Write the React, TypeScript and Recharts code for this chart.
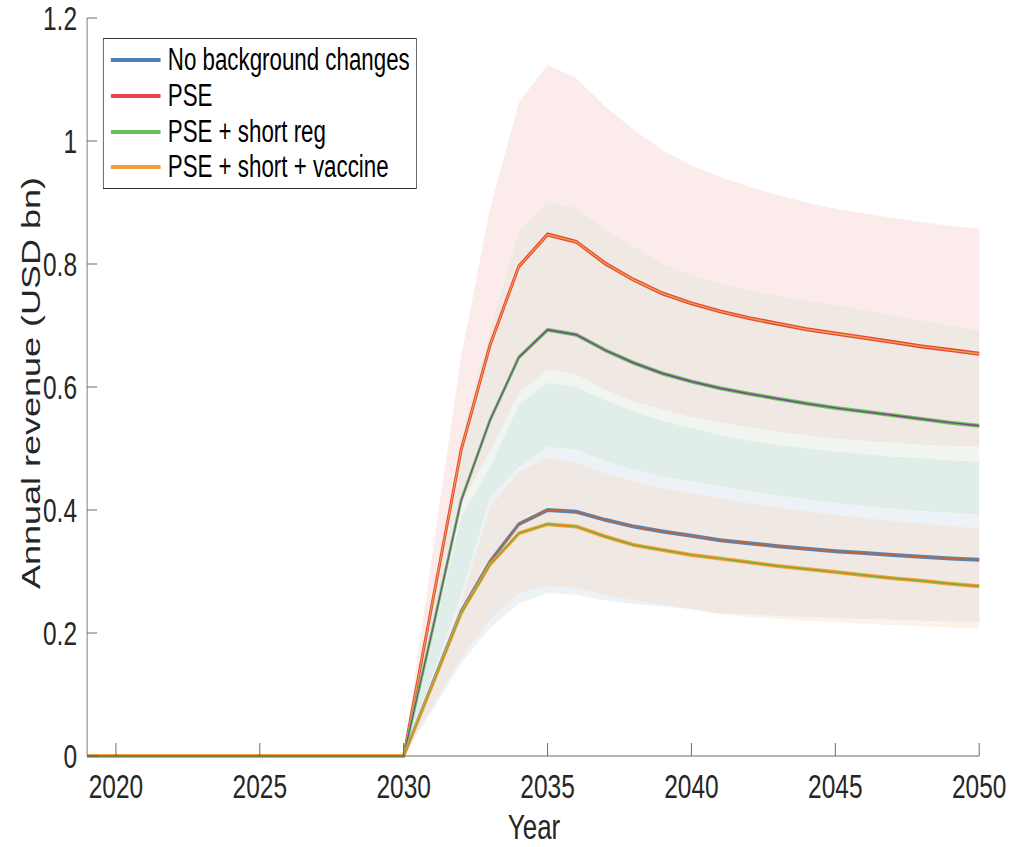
import { ComposedChart, Area, Line, XAxis, YAxis } from "recharts";

// Horizontal squeeze of the original figure
const SQUEEZE = 0.72;
const W = 1405;
const H = 847;

const years = [
  2019, 2020, 2021, 2022, 2023, 2024, 2025, 2026, 2027, 2028, 2029, 2030, 2031, 2032, 2033, 2034,
  2035, 2036, 2037, 2038, 2039, 2040, 2041, 2042, 2043, 2044, 2045, 2046, 2047, 2048, 2049, 2050,
];

// Annual revenue (USD bn), 2019..2050
const noBackground = [
  0, 0, 0, 0, 0, 0, 0, 0, 0, 0, 0, 0, 0.118, 0.235, 0.316, 0.377,
  0.4, 0.397, 0.384, 0.373, 0.365, 0.358, 0.351, 0.346, 0.341, 0.337, 0.333, 0.33, 0.327, 0.324, 0.321, 0.319,
];
const pse = [
  0, 0, 0, 0, 0, 0, 0, 0, 0, 0, 0, 0, 0.25, 0.498, 0.668, 0.796,
  0.848, 0.836, 0.801, 0.774, 0.752, 0.736, 0.723, 0.712, 0.703, 0.694, 0.687, 0.68, 0.673, 0.666, 0.66, 0.654,
];
const pseShortReg = [
  0, 0, 0, 0, 0, 0, 0, 0, 0, 0, 0, 0, 0.205, 0.416, 0.546, 0.648,
  0.693, 0.685, 0.66, 0.639, 0.622, 0.609, 0.598, 0.589, 0.581, 0.573, 0.566, 0.56, 0.554, 0.548, 0.542, 0.537,
];
const pseShortVaccine = [
  0, 0, 0, 0, 0, 0, 0, 0, 0, 0, 0, 0, 0.115, 0.232, 0.311, 0.362,
  0.377, 0.373, 0.357, 0.343, 0.335, 0.327, 0.321, 0.315, 0.309, 0.304, 0.299, 0.294, 0.289, 0.285, 0.28, 0.276,
];

// Shaded uncertainty bands, visible edges, 2030..2050
const bandStart = 2030;
const pinkTop = [0, 0.33, 0.65, 0.89, 1.062, 1.124, 1.102, 1.056, 1.018, 0.985, 0.96, 0.942, 0.926, 0.912, 0.9, 0.89, 0.882, 0.875, 0.868, 0.862, 0.857];
const beigeTop = [0, 0.26, 0.52, 0.69, 0.853, 0.901, 0.891, 0.855, 0.828, 0.8, 0.782, 0.768, 0.757, 0.748, 0.74, 0.733, 0.725, 0.716, 0.708, 0.7, 0.692];
const greenTop = [0, 0.205, 0.41, 0.495, 0.59, 0.628, 0.62, 0.595, 0.576, 0.563, 0.551, 0.542, 0.534, 0.527, 0.521, 0.516, 0.512, 0.509, 0.506, 0.504, 0.503];
const tealTop = [0, 0.195, 0.39, 0.47, 0.571, 0.607, 0.6, 0.579, 0.56, 0.545, 0.533, 0.522, 0.513, 0.506, 0.5, 0.495, 0.491, 0.487, 0.484, 0.481, 0.479];
const blueTop = [0, 0.13, 0.26, 0.42, 0.47, 0.502, 0.498, 0.479, 0.465, 0.454, 0.446, 0.438, 0.43, 0.423, 0.417, 0.411, 0.406, 0.402, 0.398, 0.395, 0.392];
const lowerBeigeTop = [0, 0.125, 0.25, 0.405, 0.462, 0.485, 0.477, 0.46, 0.446, 0.435, 0.427, 0.419, 0.411, 0.404, 0.398, 0.392, 0.387, 0.382, 0.378, 0.374, 0.37];
const lowerBeigeBottom = [0, 0.08, 0.161, 0.221, 0.265, 0.277, 0.273, 0.262, 0.253, 0.246, 0.239, 0.232, 0.23, 0.228, 0.226, 0.225, 0.223, 0.222, 0.22, 0.219, 0.218];
const blueBottom = [0, 0.075, 0.151, 0.208, 0.248, 0.265, 0.262, 0.253, 0.247, 0.243, 0.239, 0.232, 0.23, 0.228, 0.226, 0.225, 0.223, 0.222, 0.22, 0.219, 0.218];
const orangeBottom = [0, 0.08, 0.161, 0.221, 0.265, 0.277, 0.273, 0.262, 0.253, 0.246, 0.239, 0.23, 0.226, 0.223, 0.22, 0.218, 0.215, 0.213, 0.211, 0.209, 0.207];

const xTicks = [2020, 2025, 2030, 2035, 2040, 2045, 2050];
const yTicks = [0, 0.2, 0.4, 0.6, 0.8, 1, 1.2];

const legendItems = [
  { name: "No background changes", color: "#4e80b8" },
  { name: "PSE", color: "#e8464c" },
  { name: "PSE + short reg", color: "#6cbf5f" },
  { name: "PSE + short + vaccine", color: "#f59c3a" },
];

const chartData = years.map((year, i) => {
  const b = year - bandStart;
  const band = (lo: number[], hi: number[]) => (b >= 0 ? [lo[b], hi[b]] : null);
  return {
    year,
    noBackground: noBackground[i],
    pse: pse[i],
    pseShortReg: pseShortReg[i],
    pseShortVaccine: pseShortVaccine[i],
    pink: band(greenTop, pinkTop),
    beige: band(greenTop, beigeTop),
    green: band(tealTop, greenTop),
    teal: band(blueTop, tealTop),
    blue: band(blueBottom, blueTop),
    orange: band(orangeBottom, lowerBeigeTop),
    lowerBeige: band(lowerBeigeBottom, lowerBeigeTop),
  };
});

const FONT = "'Liberation Sans', Arial, Helvetica, sans-serif";
const TEXT = "#262626";
const AXIS = "#555555";

const XTick = ({ x, y, payload }: any) => (
  <g>
    <line x1={x} x2={x} y1={y} y2={y - 13} stroke={AXIS} strokeWidth={1} />
    <text x={x} y={y + 42} textAnchor="middle" fontSize={34} fontFamily={FONT} fill={TEXT}>
      {payload.value}
    </text>
  </g>
);

const YTick = ({ x, y, payload }: any) => (
  <g>
    <line x1={x} x2={x + 14} y1={y} y2={y} stroke={AXIS} strokeWidth={1} />
    <text x={x - 14} y={y + 12} textAnchor="end" fontSize={34} fontFamily={FONT} fill={TEXT}>
      {payload.value}
    </text>
  </g>
);

const bands = [
  { key: "pink", fill: "#fcebeb" },
  { key: "beige", fill: "#f0e8e2" },
  { key: "green", fill: "#f0f6ef" },
  { key: "teal", fill: "#e1ede8" },
  { key: "blue", fill: "#edf2f6" },
  { key: "orange", fill: "#fdf2e7" },
  { key: "lowerBeige", fill: "#f0e8e2" },
];

const lines = [
  { key: "noBackground", outer: "#5a84b2", inner: "#c8602f" },
  { key: "pse", outer: "#e6443f", inner: "#f0a53a" },
  { key: "pseShortReg", outer: "#6cc061", inner: "#7d3f8e" },
  { key: "pseShortVaccine", outer: "#f7a036", inner: "#78a83a" },
];

export default function App() {
  return (
    <div
      style={{
        position: "fixed",
        left: 0,
        top: 0,
        width: 1012,
        height: 847,
        overflow: "hidden",
        background: "#fff",
      }}
    >
      <div
        style={{
          position: "relative",
          width: W,
          height: H,
          transform: `scaleX(${SQUEEZE})`,
          transformOrigin: "0 0",
        }}
      >
        <ComposedChart
          width={W}
          height={H}
          data={chartData}
          margin={{ top: 18, right: 45, bottom: 0, left: 0 }}
        >
          <XAxis
            dataKey="year"
            type="number"
            domain={[2019, 2050]}
            ticks={xTicks}
            height={91}
            tickLine={false}
            tickSize={0}
            tickMargin={0}
            stroke={AXIS}
            tick={<XTick />}
            label={() => (
              <text x={741.7} y={839} textAnchor="middle" fontSize={36} fontFamily={FONT} fill={TEXT}>
                Year
              </text>
            )}
          />
          <YAxis
            type="number"
            domain={[0, 1.2]}
            ticks={yTicks}
            width={121}
            tickLine={false}
            tickSize={0}
            tickMargin={0}
            stroke="#6a6a6a"
            tick={<YTick />}
            label={() => (
              <text
                x={44}
                y={383}
                transform="rotate(-90 44 383)"
                textAnchor="middle"
                dominantBaseline="central"
                fontSize={36}
                fontFamily={FONT}
                fill={TEXT}
              >
                Annual revenue (USD bn)
              </text>
            )}
          />
          {bands.map((b) => (
            <Area
              key={b.key}
              dataKey={b.key}
              type="linear"
              fill={b.fill}
              fillOpacity={1}
              stroke="none"
              isAnimationActive={false}
              dot={false}
              activeDot={false}
            />
          ))}
          {lines.flatMap((l) => [
            <Line
              key={l.key + "-outer"}
              dataKey={l.key}
              type="linear"
              stroke={l.outer}
              strokeWidth={4}
              dot={false}
              activeDot={false}
              isAnimationActive={false}
            />,
            <Line
              key={l.key + "-inner"}
              dataKey={l.key}
              type="linear"
              stroke={l.inner}
              strokeWidth={1.4}
              dot={false}
              activeDot={false}
              isAnimationActive={false}
            />,
          ])}
        </ComposedChart>

        {/* legend box */}
        <div
          style={{
            position: "absolute",
            left: 143,
            top: 38,
            width: 436,
            height: 151,
            border: "1.4px solid #333",
            background: "#fff",
            boxSizing: "border-box",
            fontFamily: FONT,
          }}
        >
          {legendItems.map((item, i) => (
            <div
              key={item.name}
              style={{
                position: "absolute",
                left: 0,
                top: 21.3 + i * 35.6 - 18,
                height: 36,
                display: "flex",
                alignItems: "center",
              }}
            >
              <div style={{ marginLeft: 10, width: 69, height: 4, background: item.color }} />
              <span style={{ marginLeft: 10, fontSize: 31, color: "#000", whiteSpace: "nowrap" }}>
                {item.name}
              </span>
            </div>
          ))}
        </div>
      </div>
    </div>
  );
}
